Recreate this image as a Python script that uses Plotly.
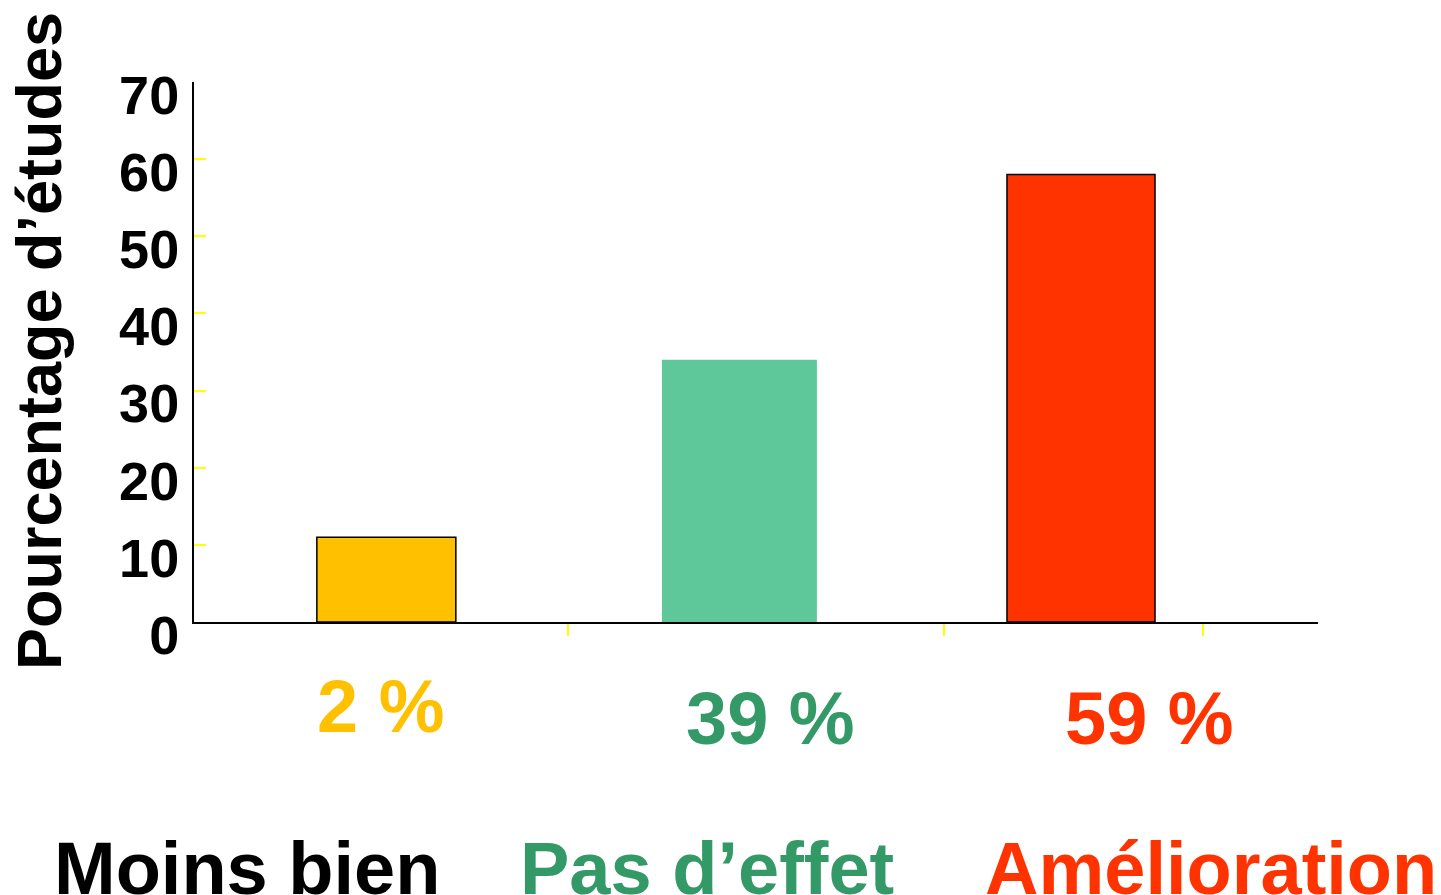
import plotly.graph_objects as go

# ---- data ----
categories = ["Moins bien", "Pas d’effet", "Amélioration"]
values = [11, 34, 58]
pct_labels = ["2 %", "39 %", "59 %"]
y_title = "Pourcentage d’études"
y_ticks = [0, 10, 20, 30, 40, 50, 60, 70]

# ---- styles ----
bar_colors = ["#FFC000", "#5FC89A", "#FF3300"]
text_colors = ["#FFC000", "#339966", "#FF3300"]
cat_colors = ["#000000", "#339966", "#FF3300"]
line_widths = [1.5, 0, 1.5]
bar_widths = [0.400, 0.446, 0.426]
bar_offsets = [-0.199, -0.206, -0.213]
FONT = "Liberation Sans, Arial, sans-serif"

xpos = list(range(len(categories)))

fig = go.Figure()
fig.add_trace(go.Bar(
    x=xpos, y=values,
    width=bar_widths, offset=bar_offsets,
    marker=dict(color=bar_colors, line=dict(color="#000000", width=line_widths)),
    hoverinfo="skip", showlegend=False,
))

fig.update_layout(
    width=1441, height=895,
    margin=dict(l=194, r=123, t=82, b=273, autoexpand=False),
    paper_bgcolor="white", plot_bgcolor="white",
    xaxis=dict(
        range=[-0.5525, 2.682], showgrid=False, zeroline=False,
        showline=True, linecolor="#000000", linewidth=2,
        tickmode="array", tickvals=[0.524, 1.606, 2.351], ticktext=["", "", ""],
        ticks="outside", ticklen=12, tickwidth=2, tickcolor="#FFFF00",
        fixedrange=True,
    ),
    yaxis=dict(
        range=[0, 70], showgrid=False, zeroline=False,
        showline=True, linecolor="#000000", linewidth=2,
        tickmode="array", tickvals=y_ticks, ticktext=[str(v) for v in y_ticks],
        ticks="inside", ticklen=12, tickwidth=2, tickcolor="#FFFF00",
        tickfont=dict(family=FONT, size=54, color="#000000", weight="bold"),
        ticklabelshift=13, ticklabelstandoff=2,
        fixedrange=True,
    ),
)

annotations = [dict(
    text=y_title, textangle=-90, xref="paper", yref="paper",
    x=-0.138, y=0.52, xanchor="center", yanchor="middle", showarrow=False,
    font=dict(family=FONT, size=63, color="#000000", weight="bold"),
)]
pct_x = [0.1664, 0.5125, 0.8505]
pct_y = [-0.156, -0.178, -0.178]
for t, c, px, py in zip(pct_labels, text_colors, pct_x, pct_y):
    annotations.append(dict(
        text=t, xref="paper", yref="paper", x=px, y=py,
        xanchor="center", yanchor="middle", showarrow=False,
        font=dict(family=FONT, size=74, color=c, weight="bold"),
    ))
cat_x = [0.0472, 0.4564, 0.9048]
for t, c, px in zip(categories, cat_colors, cat_x):
    annotations.append(dict(
        text=t, xref="paper", yref="paper", x=px, y=-0.457,
        xanchor="center", yanchor="middle", showarrow=False,
        font=dict(family=FONT, size=74, color=c, weight="bold"),
    ))
fig.update_layout(annotations=annotations)

fig.write_html(
    "out.html",
    config={"displayModeBar": False},
    post_script="document.body.style.margin='0';document.body.style.overflow='hidden';",
)
